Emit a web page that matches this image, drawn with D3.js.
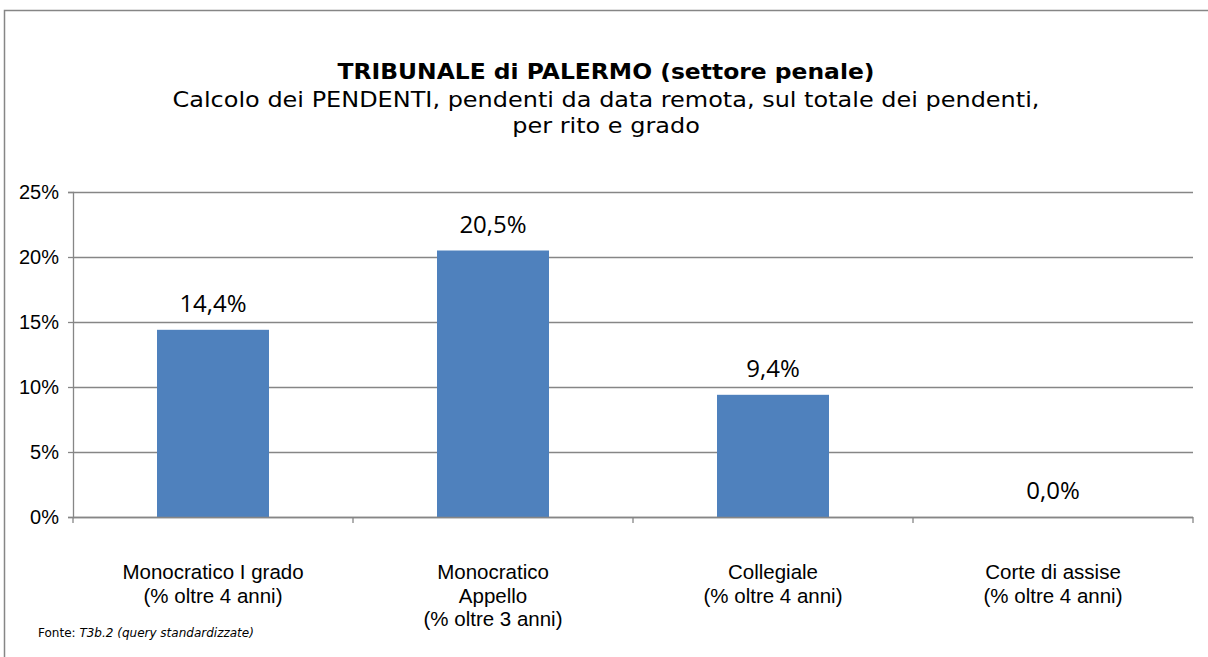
<!DOCTYPE html>
<html>
<head>
<meta charset="utf-8">
<script src="https://cdn.jsdelivr.net/npm/d3@7"></script>
<style>
  body { margin: 0; background: #fff; }
  svg { display: block; }
</style>
</head>
<body>
<svg width="1208" height="657"></svg>
<script>
// chart data
var categories = [
  ["Monocratico I grado", "(% oltre 4 anni)"],
  ["Monocratico", "Appello", "(% oltre 3 anni)"],
  ["Collegiale", "(% oltre 4 anni)"],
  ["Corte di assise", "(% oltre 4 anni)"]
];
var values = [14.4, 20.5, 9.4, 0.0];
var yTicks = [0, 5, 10, 15, 20, 25];
var titleLines = [
  "Calcolo dei PENDENTI, pendenti da data remota, sul totale dei pendenti,",
  "per rito e grado"
];

var svg = d3.select('svg');
var svgWidth = +svg.attr('width');
var svgHeight = +svg.attr('height');
var padding = {t: 192, r: 15, b: 140, l: 73};
var chartWidth = svgWidth - padding.l - padding.r;
var chartHeight = svgHeight - padding.t - padding.b;

// outer frame (top and left edges only are visible)
svg.append('path')
  .attr('d', 'M4.5,' + svgHeight + 'V10.5H' + svgWidth)
  .attr('fill', 'none')
  .attr('stroke', '#868686')
  .attr('stroke-width', 1.5);

var xScale = d3.scaleBand()
  .domain(d3.range(categories.length))
  .range([0, chartWidth])
  .paddingInner(0.6)
  .paddingOuter(0.3);

var xBand = d3.scaleBand()
  .domain(d3.range(categories.length))
  .range([0, chartWidth]);

var yScale = d3.scaleLinear()
  .domain([0, 25])
  .range([chartHeight, 0]);

var chart = svg.append('g')
  .attr('transform', 'translate(' + [padding.l, padding.t] + ')');

// gridlines
chart.append('g')
  .selectAll('line')
  .data(yTicks)
  .enter()
  .append('line')
  .attr('x1', 0)
  .attr('x2', chartWidth)
  .attr('y1', d => Math.round(yScale(d)) + 0.5)
  .attr('y2', d => Math.round(yScale(d)) + 0.5)
  .attr('stroke', '#868686')
  .attr('stroke-width', 1.3);

// bars
chart.selectAll('.bar')
  .data(values)
  .enter()
  .append('rect')
  .attr('class', 'bar')
  .attr('x', (d, i) => xScale(i))
  .attr('y', d => yScale(d))
  .attr('width', xScale.bandwidth())
  .attr('height', d => chartHeight - yScale(d))
  .attr('fill', '#4f81bd');

// y axis
var yAxis = chart.append('g')
  .call(d3.axisLeft(yScale).tickValues(yTicks).tickSize(5).tickPadding(9).tickFormat(d => d + '%'));
yAxis.select('.domain').attr('stroke', '#868686').attr('stroke-width', 1.3);
yAxis.selectAll('.tick line').attr('stroke', '#868686').attr('stroke-width', 1.3);
yAxis.selectAll('.tick text')
  .attr('fill', '#000')
  .style('font-family', '"Liberation Sans", Arial, sans-serif')
  .style('font-size', '20px');

// x axis with ticks on category boundaries
var xAxis = chart.append('g')
  .attr('transform', 'translate(0,' + chartHeight + ')');
xAxis.append('line')
  .attr('x1', 0).attr('x2', chartWidth)
  .attr('y1', 0.5).attr('y2', 0.5)
  .attr('stroke', '#868686').attr('stroke-width', 1.3);
xAxis.selectAll('.xtick')
  .data(d3.range(categories.length + 1))
  .enter()
  .append('line')
  .attr('class', 'xtick')
  .attr('x1', d => d === categories.length ? chartWidth : xBand(d))
  .attr('x2', d => d === categories.length ? chartWidth : xBand(d))
  .attr('y1', 0).attr('y2', 6)
  .attr('stroke', '#868686').attr('stroke-width', 1.3);

// category labels
xAxis.selectAll('.xlabel')
  .data(categories)
  .enter()
  .append('text')
  .attr('class', 'xlabel')
  .attr('text-anchor', 'middle')
  .attr('transform', (d, i) => 'translate(' + (xBand(i) + xBand.bandwidth() / 2) + ',0)')
  .style('font-family', '"Liberation Sans", Arial, sans-serif')
  .style('font-size', '20.5px')
  .selectAll('tspan')
  .data(d => d)
  .enter()
  .append('tspan')
  .attr('x', 0)
  .attr('y', (d, i) => 62 + i * 23.5)
  .text(d => d);

// data labels
chart.selectAll('.vlabel')
  .data(values)
  .enter()
  .append('text')
  .attr('class', 'vlabel')
  .attr('text-anchor', 'middle')
  .attr('x', (d, i) => xScale(i) + xScale.bandwidth() / 2)
  .attr('y', d => yScale(d) - 18)
  .style('font-family', '"Open Sans", sans-serif')
  .style('font-size', '24px')
  .text(d => d.toFixed(1).replace('.', ',') + '%');

// title block, slightly widened to match the Verdana proportions
var head = svg.append('g')
  .attr('transform', 'translate(606,0) scale(1.09,1)');

head.append('text')
  .attr('x', 0)
  .attr('y', 79)
  .attr('text-anchor', 'middle')
  .style('font-family', '"DejaVu Sans", Verdana, sans-serif')
  .style('font-weight', 'bold')
  .style('font-size', '21.5px')
  .text('TRIBUNALE di PALERMO (settore penale)');

head.selectAll('.sub')
  .data(titleLines)
  .enter()
  .append('text')
  .attr('class', 'sub')
  .attr('x', 0)
  .attr('y', (d, i) => 107 + i * 26)
  .attr('text-anchor', 'middle')
  .style('font-family', '"DejaVu Sans", Verdana, sans-serif')
  .style('font-size', '22px')
  .text(d => d);

// source note
var note = svg.append('text')
  .attr('x', 38)
  .attr('y', 637)
  .style('font-family', '"DejaVu Sans", Verdana, sans-serif')
  .style('font-size', '12px');
note.append('tspan').text('Fonte: ');
note.append('tspan').style('font-style', 'italic').text('T3b.2 (query standardizzate)');
</script>
</body>
</html>
